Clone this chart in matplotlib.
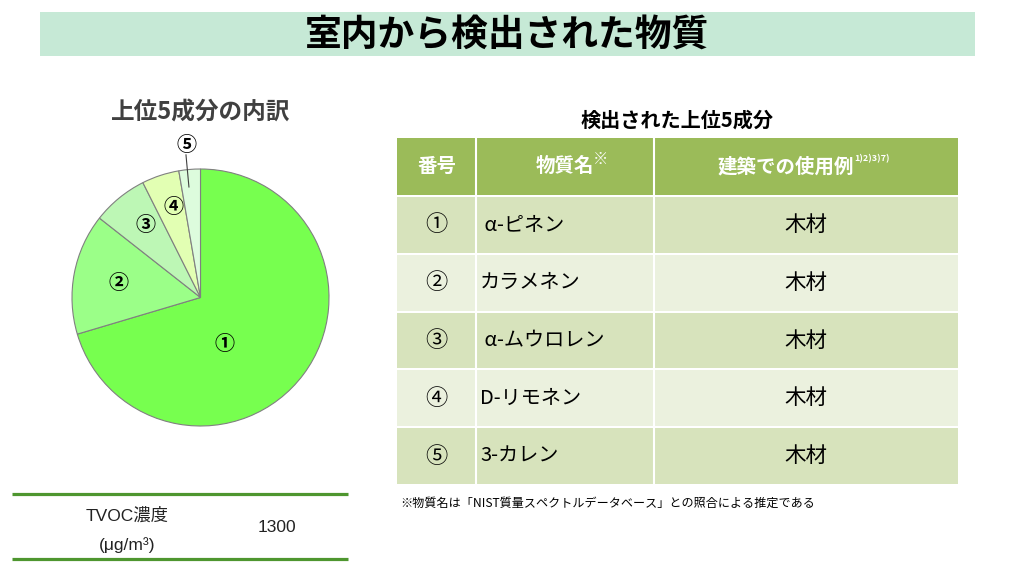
import matplotlib.pyplot as plt
from matplotlib.patches import Rectangle

plt.rcParams['font.family'] = ['Noto Sans CJK JP', 'DejaVu Sans']

# データ
pie_labels = ['①', '②', '③', '④', '⑤']
pie_shares = [70.4, 15.2, 7.0, 4.7, 2.7]
pie_colors = ['#77FF4F', '#9BFF88', '#BDF7B5', '#E2FFB3', '#DDFCDD']
# ラベル位置 (半径=1 基準)
label_pos = [(0.19, -0.36), (-0.64, 0.12), (-0.43, 0.57), (-0.21, 0.71), (-0.11, 1.19)]

table_nums = ['①', '②', '③', '④', '⑤']
table_names = [' α-ピネン', 'カラメネン', ' α-ムウロレン', 'D-リモネン', '3-カレン']
table_uses = ['木材', '木材', '木材', '木材', '木材']

tvoc_label = 'TVOC濃度'
tvoc_unit = '(μg/m³)'
tvoc_value = 1300

W, H = 1024, 571
fig = plt.figure(figsize=(W / 100, H / 100), dpi=100)

# 全体用の座標軸 (ピクセル座標)
bg = fig.add_axes([0, 0, 1, 1])
bg.set_xlim(0, W)
bg.set_ylim(H, 0)
bg.axis('off')

# ---- タイトル帯 ----
bg.add_patch(Rectangle((40, 12), 935, 44, color='#C6E9D6', lw=0))
bg.text(507, 35, '室内から検出された物質', fontsize=26.5, fontweight='bold',
        ha='center', va='center', color='black')

# ---- 円グラフ ----
cx, cy, r = 200.5, 297.5, 128.5
half = r * 1.3
ax = fig.add_axes([(cx - half) / W, (H - cy - half) / H, 2 * half / W, 2 * half / H])
ax.pie(pie_shares, colors=pie_colors, startangle=90, counterclock=False, radius=1,
       wedgeprops=dict(edgecolor='#808080', linewidth=0.8))
ax.set_xlim(-1.3, 1.3)
ax.set_ylim(-1.3, 1.3)
ax.set_aspect('equal')
ax.axis('off')
for lab, (x, y) in zip(pie_labels, label_pos):
    ax.text(x, y, lab, fontsize=14.5, fontweight='bold', ha='center', va='center', color='black')
# ⑤ の引き出し線
ax.plot([-0.113, -0.09], [1.11, 0.86], color='#404040', lw=0.8)
bg.text(201, 113, '上位5成分の内訳', fontsize=17, fontweight='bold',
        ha='center', va='center', color='#404040')

# ---- 表 ----
bg.text(677, 120, '検出された上位5成分', fontsize=14.5, fontweight='bold',
        ha='center', va='center', color='black')
col_x = [397, 476, 654, 958]
head_top, head_bot = 138, 195
row_h = 57.8
gap = 2
bg.add_patch(Rectangle((col_x[0], head_top), col_x[3] - col_x[0], head_bot - head_top,
                       color='#9BBB59', lw=0))
for c in col_x[1:3]:
    bg.plot([c, c], [head_top, head_bot], color='white', lw=1.5)
hy = (head_top + head_bot) / 2
bg.text((col_x[0] + col_x[1]) / 2, hy, '番号', fontsize=14, fontweight='bold',
        ha='center', va='center', color='white')
t2 = bg.text((col_x[1] + col_x[2]) / 2, hy, '物質名', fontsize=14, fontweight='bold',
             ha='center', va='center', color='white')
bg.annotate('※', xy=(0.98, 0.9), xycoords=t2, fontsize=11, fontweight='bold',
            ha='left', va='center', color='white')
t3 = bg.text((col_x[2] + col_x[3]) / 2 - 20, hy, '建築での使用例', fontsize=14, fontweight='bold',
             ha='center', va='center', color='white')
bg.annotate('1)2)3)7)', xy=(1.0, 0.9), xycoords=t3, fontsize=6.5, fontweight='bold',
            ha='left', va='center', color='white')

row_colors = ['#D7E3BC', '#EBF1DE']
for i, (num, name, use) in enumerate(zip(table_nums, table_names, table_uses)):
    top = head_bot + gap + i * row_h
    bg.add_patch(Rectangle((col_x[0], top), col_x[3] - col_x[0], row_h - gap,
                           color=row_colors[i % 2], lw=0))
    for c in col_x[1:3]:
        bg.plot([c, c], [top, top + row_h - gap], color='white', lw=1.5)
    ym = top + (row_h - gap) / 2
    bg.text((col_x[0] + col_x[1]) / 2, ym, num, fontsize=16, ha='center', va='center', color='black')
    bg.text(col_x[1] + 4, ym, name, fontsize=14.5, ha='left', va='center', color='black')
    bg.text((col_x[2] + col_x[3]) / 2, ym, use, fontsize=15.5, ha='center', va='center', color='black')

bg.text(400, 503, '※物質名は「NIST質量スペクトルデータベース」との照合による推定である',
        fontsize=8.7, ha='left', va='center', color='black')

# ---- TVOC ----
bg.plot([12, 348], [494, 494], color='#4E962F', lw=2.3, solid_capstyle='butt')
bg.plot([12, 348], [559, 559], color='#4E962F', lw=2.3, solid_capstyle='butt')
fam = ['Liberation Sans', 'Noto Sans CJK JP']
bg.text(127, 516, tvoc_label, fontsize=12.5, family=fam, ha='center', va='center', color='#222222')
bg.text(127, 545, tvoc_unit, fontsize=12.5, family=fam, ha='center', va='center', color='#222222')
bg.text(277, 528, f'{tvoc_value}', fontsize=12.5, family=fam, ha='center', va='center', color='#222222')

fig.savefig('out.png', dpi=100, facecolor='white')
